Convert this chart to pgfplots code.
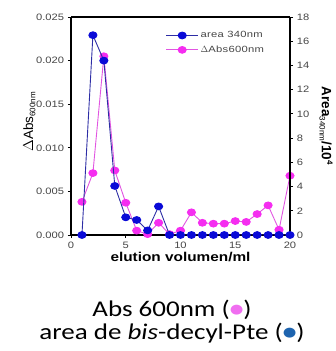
\documentclass[border=0pt]{standalone}
\usepackage{pgfplots}
\pgfplotsset{compat=1.18}
\usepackage{fontspec}
\setmainfont{Liberation Sans}[FakeStretch=1.2]
\newfontfamily\plainsans{Liberation Sans}
\newfontfamily\legsans{Liberation Sans}[FakeStretch=1.25,LetterSpace=3]
\newfontfamily\calib{Carlito}[FakeStretch=1.2]
\newfontfamily\dejavu{DejaVu Sans}[FakeStretch=1.2]
\definecolor{mblue}{RGB}{10,10,215}
\definecolor{lblue}{RGB}{45,45,165}
\definecolor{mpink}{RGB}{245,45,240}
\definecolor{lpink}{RGB}{225,85,225}
\definecolor{dotpink}{RGB}{240,110,240}
\definecolor{dotblue}{RGB}{30,100,175}
\definecolor{ticktext}{RGB}{70,70,70}

\pgfplotstableread{
x abs
1 0.0038
2 0.0071
3 0.0205
4 0.0074
5 0.0037
6 0.0005
7 0.0001
8 0.0014
9 0.0001
10 0.0005
11 0.0026
12 0.0014
13 0.0013
14 0.0013
15 0.0016
16 0.0015
17 0.0024
18 0.0034
19 0.0006
20 0.0068
}\abstable

\pgfplotstableread{
x area
1 0
2 16.5
3 14.4
4 4.05
5 1.46
6 1.24
7 0.38
8 2.36
9 0
10 0
11 0
12 0
13 0
14 0
15 0
16 0
17 0
18 0
19 0
20 0
}\areatable

\begin{document}
\begin{tikzpicture}
\path[use as bounding box] (0pt,0pt) rectangle (336pt,351pt);
\pgfplotsset{
  common/.style={
    scale only axis,
    width=219pt, height=218pt,
    at={(71pt,116pt)}, anchor=south west,
    xmin=0, xmax=20,
    line width=1.2pt,
    tick align=outside,
    major tick length=3pt,
    tick style={line width=0.8pt, black},
    /pgf/number format/assume math mode=true,
    ticklabel style={font=\fontsize{9.3}{10}\selectfont, text=ticktext},
  },
  pinkstyle/.style={color=lpink, line width=0.9pt, mark=*, mark size=3.4pt,
    mark options={xscale=1.2, fill=mpink, draw=mpink}},
  bluestyle/.style={color=lblue, line width=0.9pt, mark=*, mark size=3.4pt,
    mark options={xscale=1.2, fill=mblue, draw=mblue}},
}
\begin{axis}[
  common,
  axis y line*=left,
  axis x line*=bottom,
  ymin=0, ymax=0.025,
  ytick={0,0.005,0.010,0.015,0.020,0.025},
  yticklabel style={/pgf/number format/.cd, fixed, fixed zerofill, precision=3},
  scaled y ticks=false,
  xtick={0,5,10,15,20},
  xlabel={\fontsize{12.8}{14}\selectfont\bfseries elution volumen/ml},
  xlabel style={yshift=4pt},
  ylabel={\plainsans\fontsize{13.5}{14}\selectfont $\Delta$Abs\textsubscript{\fontsize{8}{9}\selectfont 600nm}},
  ylabel style={at={(axis description cs:-0.19,0.52)}, anchor=center},
]
\addplot[pinkstyle] table[x=x, y=abs] {\abstable};
\end{axis}
\begin{axis}[
  common,
  axis y line*=right,
  axis x line=none,
  ymin=0, ymax=18,
  ytick={0,2,...,18},
  ylabel={\plainsans\fontsize{13.5}{14}\selectfont\bfseries Area\textsubscript{\mdseries\fontsize{8}{9}\selectfont 340nm}/10\textsuperscript{\fontsize{8}{9}\selectfont 4}},
  ylabel style={at={(axis description cs:1.165,0.5)}, anchor=center, rotate=180},
  legend cell align=left,
  legend style={draw=none, fill=none, at={(0.43,0.945)}, anchor=north west,
    font=\legsans\fontsize{9}{10}\selectfont, text=ticktext, row sep=2.5pt, inner sep=0pt},
  legend image code/.code={\draw[mark repeat=2, mark phase=2, #1] plot coordinates {(0pt,0pt) (16pt,0pt) (32pt,0pt)};},
]
\draw[line width=1.2pt] (rel axis cs:0,1) -- (rel axis cs:1,1);
\addplot[bluestyle] table[x=x, y=area] {\areatable};
\addlegendentry{area 340nm}
\addlegendimage{pinkstyle}
\addlegendentry{$\Delta$Abs600nm}
\end{axis}
\node[anchor=base, font=\calib\fontsize{22.5}{24}\selectfont] at (172pt,34.3pt)
  {Abs 600nm ({\dejavu\fontsize{13}{13}\selectfont\raisebox{3.5pt}{\textcolor{dotpink}{●}}})};
\node[anchor=base, font=\calib\fontsize{22.5}{24}\selectfont] at (172pt,11pt)
  {area de \textit{bis}-decyl-Pte ({\dejavu\fontsize{13}{13}\selectfont\raisebox{3.5pt}{\textcolor{dotblue}{●}}})};
\end{tikzpicture}
\end{document}
